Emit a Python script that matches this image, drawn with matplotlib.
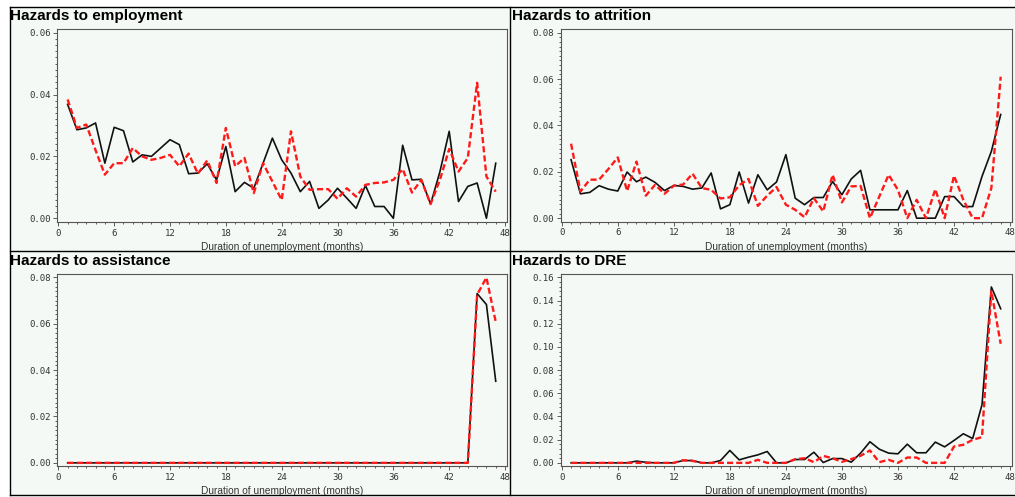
import numpy as np
import matplotlib
matplotlib.use("Agg")
import matplotlib.pyplot as plt
from matplotlib.patches import Rectangle
from matplotlib.lines import Line2D
from matplotlib.ticker import MultipleLocator, FormatStrFormatter

# monthly hazard rates, months 1..47
months = np.arange(1, 48)

emp_black = [0.0368, 0.0286, 0.0292, 0.0308, 0.0178, 0.0294, 0.0283, 0.0182, 0.0205, 0.0200,
             0.0227, 0.0254, 0.0238, 0.0144, 0.0146, 0.0176, 0.0124, 0.0232, 0.0086, 0.0116,
             0.0097, 0.0178, 0.0259, 0.0189, 0.0146, 0.0086, 0.0119, 0.0032, 0.0059, 0.0097,
             0.0065, 0.0032, 0.0106, 0.0038, 0.0038, 0.0000, 0.0236, 0.0124, 0.0126, 0.0046,
             0.0150, 0.0281, 0.0054, 0.0103, 0.0114, 0.0000, 0.0178]
emp_red = [0.0384, 0.0292, 0.0303, 0.0220, 0.0141, 0.0178, 0.0178, 0.0227, 0.0200, 0.0189,
           0.0195, 0.0205, 0.0168, 0.0209, 0.0144, 0.0187, 0.0114, 0.0292, 0.0168, 0.0195,
           0.0081, 0.0178, 0.0119, 0.0059, 0.0281, 0.0135, 0.0092, 0.0094, 0.0094, 0.0063,
           0.0097, 0.0070, 0.0108, 0.0114, 0.0116, 0.0124, 0.0159, 0.0083, 0.0124, 0.0046,
           0.0124, 0.0224, 0.0151, 0.0195, 0.0438, 0.0135, 0.0086]

att_black = [0.0252, 0.0105, 0.0111, 0.0140, 0.0125, 0.0117, 0.0199, 0.0157, 0.0177, 0.0154,
             0.0119, 0.0141, 0.0137, 0.0125, 0.0130, 0.0195, 0.0040, 0.0058, 0.0199, 0.0065,
             0.0187, 0.0122, 0.0156, 0.0274, 0.0086, 0.0058, 0.0089, 0.0089, 0.0158, 0.0101,
             0.0169, 0.0206, 0.0036, 0.0036, 0.0036, 0.0036, 0.0119, 0.0000, 0.0000, 0.0000,
             0.0093, 0.0093, 0.0050, 0.0050, 0.0180, 0.0288, 0.0447]
att_red = [0.0321, 0.0115, 0.0166, 0.0166, 0.0212, 0.0262, 0.0117, 0.0244, 0.0097, 0.0144,
           0.0105, 0.0140, 0.0145, 0.0192, 0.0130, 0.0122, 0.0085, 0.0090, 0.0142, 0.0169,
           0.0053, 0.0097, 0.0134, 0.0058, 0.0036, 0.0004, 0.0086, 0.0029, 0.0187, 0.0068,
           0.0137, 0.0139, 0.0000, 0.0093, 0.0187, 0.0122, 0.0000, 0.0079, 0.0000, 0.0125,
           0.0000, 0.0183, 0.0079, 0.0000, 0.0000, 0.0130, 0.0610]

asst_black = [0, 0, 0, 0, 0, 0, 0, 0, 0, 0,
              0, 0, 0, 0, 0, 0, 0, 0, 0, 0,
              0, 0, 0, 0, 0, 0, 0, 0, 0, 0,
              0, 0, 0, 0, 0, 0, 0, 0, 0, 0,
              0, 0, 0, 0, 0.0730, 0.0683, 0.0352]
asst_red = [0, 0, 0, 0, 0, 0, 0, 0, 0, 0,
            0, 0, 0, 0, 0, 0, 0, 0, 0, 0,
            0, 0, 0, 0, 0, 0, 0, 0, 0, 0,
            0, 0, 0, 0, 0, 0, 0, 0, 0, 0,
            0, 0, 0, 0, 0.0725, 0.0799, 0.0608]

dre_black = [0, 0, 0, 0, 0, 0, 0, 0.0015, 0.0005, 0,
             0, 0, 0.0020, 0.0020, 0, 0, 0.0020, 0.0107, 0.0026, 0.0049,
             0.0069, 0.0098, 0, 0, 0.0029, 0.0029, 0.0092, 0.0003, 0.0037, 0.0037,
             0.0006, 0.0084, 0.0182, 0.0118, 0.0084, 0.0078, 0.0161, 0.0087, 0.0087, 0.0179,
             0.0138, 0.0193, 0.0251, 0.0210, 0.0502, 0.1517, 0.1329]
dre_red = [0, 0, 0, 0, 0, 0, 0, 0, 0, 0,
           0, 0, 0.0023, 0.0017, 0, 0, 0, 0, 0, 0,
           0.0026, 0, 0, 0, 0.0032, 0.0040, 0.0006, 0.0060, 0.0040, 0.0009,
           0.0032, 0.0061, 0.0107, 0.0006, 0.0026, 0, 0.0046, 0.0046, 0, 0,
           0, 0.0141, 0.0156, 0.0199, 0.0222, 0.1482, 0.1027]

titles = ["Hazards to employment", "Hazards to attrition",
          "Hazards to assistance", "Hazards to DRE"]
xlabel = "Duration of unemployment (months)"

W, H = 1015, 497
BG = '#F5F9F5'

fig = plt.figure(figsize=(W / 100, H / 100), dpi=100)
fig.patch.set_facecolor('white')


def frac(l, t, r, b):
    return [l / W, 1 - b / H, (r - l) / W, (b - t) / H]


# panel backgrounds and frame lines
for (l, t, r, b) in [(10, 7, 510, 251), (510, 7, 1015, 251),
                     (10, 251, 510, 495), (510, 251, 1015, 495)]:
    fig.add_artist(Rectangle((l / W, 1 - b / H), (r - l) / W, (b - t) / H,
                             transform=fig.transFigure, facecolor=BG,
                             edgecolor='none', zorder=0))
for (x0, y0, x1, y1) in [(10, 7, 1015, 7), (10, 251, 1015, 251), (10, 495, 1015, 495),
                         (10, 7, 10, 495), (510, 7, 510, 495)]:
    fig.add_artist(Line2D([x0 / W, x1 / W], [1 - y0 / H, 1 - y1 / H],
                          transform=fig.transFigure, color='black', lw=1.0, zorder=1))

panels = [
    (emp_black, emp_red, 0.06, 0.002, (57.4, 29.3, 506.9, 221.6), (10, 16)),
    (att_black, att_red, 0.08, 0.002, (560.8, 29.3, 1011.9, 221.5), (512, 16)),
    (asst_black, asst_red, 0.08, 0.002, (57.4, 274.0, 506.9, 466.2), (10, 261)),
    (dre_black, dre_red, 0.16, 0.004, (560.8, 274.0, 1011.9, 466.2), (512, 261)),
]

for title, (black, red, ymax, yminor, box, tpos) in zip(titles, panels):
    ax = fig.add_axes(frac(*box))
    ax.set_facecolor(BG)
    ax.plot(months, black, color='#111111', lw=1.2, zorder=3)
    ax.plot(months, red, color='#FF1A1A', lw=1.7, dashes=(2.6, 1.3), zorder=4)

    pad = ymax * 0.018
    ax.set_ylim(-pad, ymax + pad)
    ax.set_xlim(-0.1, 48.2)
    ax.xaxis.set_major_locator(MultipleLocator(6))
    ax.xaxis.set_minor_locator(MultipleLocator(1))
    ax.yaxis.set_major_locator(MultipleLocator(0.02))
    ax.yaxis.set_minor_locator(MultipleLocator(yminor))
    ax.yaxis.set_major_formatter(FormatStrFormatter('%.2f'))

    ax.tick_params(which='both', direction='out', color='#444444', width=0.6,
                   labelsize=6.5, labelcolor='#333333', pad=2)
    ax.tick_params(which='major', length=3)
    ax.tick_params(which='minor', length=1.6)
    for lab in ax.get_xticklabels() + ax.get_yticklabels():
        lab.set_family('DejaVu Sans Mono')
    for sp in ax.spines.values():
        sp.set_color('#555555')
        sp.set_linewidth(0.8)

    ax.set_xlabel(xlabel, fontsize=7.3, color='#333333', labelpad=3,
                  family='Liberation Sans')

    fig.text(tpos[0] / W, 1 - tpos[1] / H, title, ha='left', va='center',
             fontsize=11, fontweight='bold', family='Liberation Sans')

fig.savefig('out.png', dpi=100, facecolor='white')
